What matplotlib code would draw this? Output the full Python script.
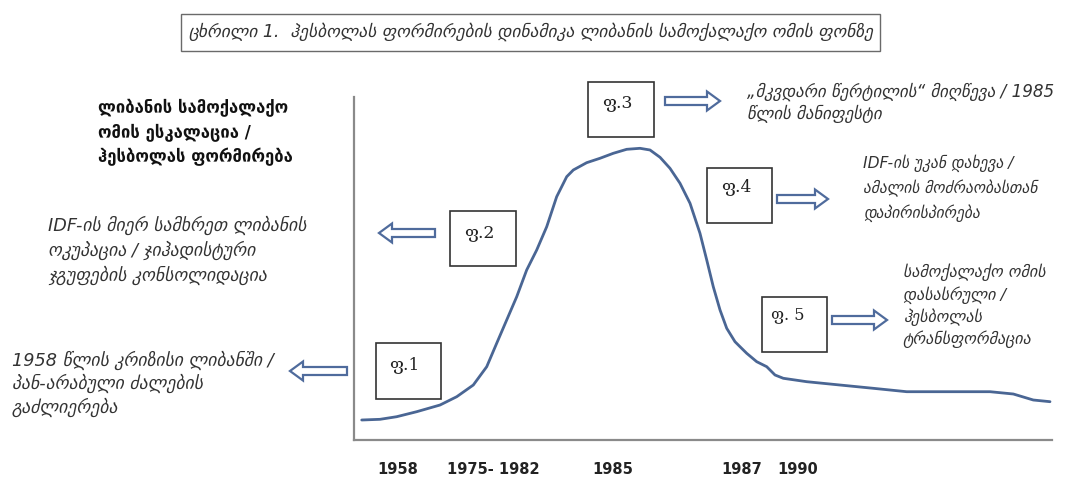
import matplotlib
matplotlib.use('Agg')
import matplotlib.pyplot as plt
from matplotlib.patches import Rectangle, FancyArrow

W, H = 1069, 496

# ---- data (conceptual intensity curve) ----
x_vals = [1.11, 3.74, 6.13, 9.01, 12.36, 14.76, 17.14, 19.07, 20.50, 21.94,
          23.38, 24.81, 26.25, 27.69, 29.12, 30.56, 31.51, 33.43, 35.34, 37.26,
          39.18, 41.09, 42.53, 43.97, 45.40, 46.84, 48.28, 49.71, 50.68, 51.62,
          52.59, 53.55, 54.74, 55.46, 56.42, 57.86, 59.30, 60.49, 61.68, 65.04,
          69.83, 74.61, 79.41, 86.59, 91.38, 94.73, 97.60, 100.0]
y_vals = [5.83, 6.03, 6.79, 8.25, 10.20, 12.62, 16.03, 21.37, 28.19, 34.99,
          41.78, 49.56, 55.39, 62.19, 70.93, 76.76, 78.72, 80.85, 82.13, 83.59,
          84.75, 85.04, 84.55, 82.42, 79.21, 74.84, 69.01, 60.26, 52.48, 44.69,
          37.90, 32.57, 28.66, 27.20, 25.28, 22.83, 21.37, 18.95, 17.99, 17.00,
          16.03, 15.07, 14.08, 14.08, 14.08, 13.41, 11.66, 11.17]
tick_pos = [6.3, 20.0, 37.2, 55.7, 63.8]
tick_labels = ['1958', '1975- 1982', '1985', '1987', '1990']

title = 'ცხრილი 1.  ჰესბოლას ფორმირების დინამიკა ლიბანის სამოქალაქო ომის ფონზე'
ylabel_lines = ['ლიბანის სამოქალაქო', 'ომის ესკალაცია /', 'ჰესბოლას ფორმირება']
phase_labels = ['ფ.1', 'ფ.2', 'ფ.3', 'ფ.4', 'ფ. 5']
phase_texts = [
    ['1958 წლის კრიზისი ლიბანში /', 'პან-არაბული ძალების', 'გაძლიერება'],
    ['IDF-ის მიერ სამხრეთ ლიბანის', 'ოკუპაცია / ჯიჰადისტური', 'ჯგუფების კონსოლიდაცია'],
    ['„მკვდარი წერტილის“ მიღწევა / 1985', 'წლის მანიფესტი'],
    ['IDF-ის უკან დახევა /', 'ამალის მოძრაობასთან', 'დაპირისპირება'],
    ['სამოქალაქო ომის', 'დასასრული /', 'ჰესბოლას', 'ტრანსფორმაცია'],
]

LINE_C = '#4a6694'
ARROW_C = '#4f6b9c'

fig = plt.figure(figsize=(W / 100, H / 100), dpi=100)
fig.patch.set_facecolor('white')

# main axes
ax = fig.add_axes([354 / W, (H - 440) / H, (1052 - 354) / W, (440 - 97) / H])
ax.plot(x_vals, y_vals, color=LINE_C, lw=2.0, solid_joinstyle='round', solid_capstyle='round')
ax.set_xlim(0, 100 * 698 / 696)
ax.set_ylim(0, 100)
for s in ['top', 'right']:
    ax.spines[s].set_visible(False)
for s in ['left', 'bottom']:
    ax.spines[s].set_color('#8a8a8a')
    ax.spines[s].set_linewidth(1.6)
ax.set_yticks([])
ax.set_xticks(tick_pos, tick_labels, fontweight='bold', fontsize=10.5, color='#222222')
ax.tick_params(axis='x', length=0, pad=16)

# overlay axes in pixel coordinates
ov = fig.add_axes([0, 0, 1, 1])
ov.set_xlim(0, W)
ov.set_ylim(H, 0)
ov.axis('off')

fig.canvas.draw()
renderer = fig.canvas.get_renderer()


def fit_lines(lines, x, ys, target_w, fit_idx=0, **kw):
    t = ov.text(x, ys[0], lines[fit_idx], fontsize=10, **kw)
    w = t.get_window_extent(renderer).width
    t.remove()
    fs = 10 * target_w / w
    for line, y in zip(lines, ys):
        ov.text(x, y, line, fontsize=fs, va='center', ha='left', **kw)
    return fs


SANS = ['DejaVu Sans']
SERIF = ['DejaVu Serif', 'DejaVu Sans']

# title box
ov.add_patch(Rectangle((181, 14), 699, 37, fill=False, ec='#6a6a6a', lw=1.0))
fit_lines([title], 188, [32], 680, family=SANS, style='italic', color='#333333')

# y label
fit_lines(ylabel_lines, 98, [108, 133, 157], 190, family=SANS, fontweight='bold', color='#111111')

# phase boxes: (x0, y0, x1, y1), label position
boxes = [(376, 343, 441, 399), (450, 211, 516, 266), (588, 82, 654, 137),
         (707, 168, 772, 223), (762, 297, 827, 352)]
label_pos = [(389, 365), (464, 233), (602, 103), (721, 187), (771, 315)]
for (x0, y0, x1, y1), (lx, ly), lab in zip(boxes, label_pos, phase_labels):
    ov.add_patch(Rectangle((x0, y0), x1 - x0, y1 - y0, fc='white', ec='#333333', lw=1.2))
    fit_lines([lab], lx, [ly], 30 if lab != 'ფ. 5' else 33, family=SERIF, color='#222222')

# arrows (start x, end x, y)
arrows = [(347, 290, 371), (435, 379, 233), (665, 720, 101), (777, 828, 199), (832, 887, 320)]
for xs, xe, y in arrows:
    ov.add_patch(FancyArrow(xs, y, xe - xs, 0, width=8, head_width=19, head_length=13,
                            length_includes_head=True, fc='white', ec=ARROW_C, lw=1.6))

# phase descriptions
text_specs = [
    (12, [360, 383, 407], 261, 0),
    (48, [225, 250, 275], 257, 0),
    (747, [92, 114], 306, 0),
    (863, [163, 188, 213], 174, 1),
    (903, [272, 295, 317, 339], 142, 0),
]
for (x, ys, tw, idx), lines in zip(text_specs, phase_texts):
    fit_lines(lines, x, ys, tw, fit_idx=idx, family=SANS, style='italic', color='#333333')

fig.savefig('out.png', dpi=100, facecolor='white')
